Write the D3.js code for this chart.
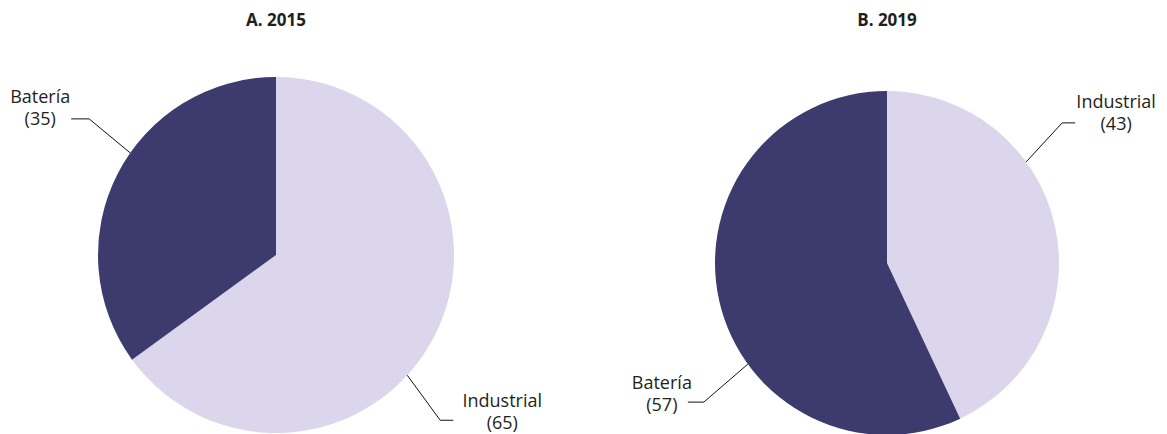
<!DOCTYPE html>
<html>
<head>
<meta charset="utf-8">
<script src="https://cdn.jsdelivr.net/npm/d3@7"></script>
<style>
  body { margin: 0; background: #fff; }
  svg text { font-family: "Open Sans", "Noto Sans", sans-serif; fill: #231f20; }
</style>
</head>
<body>
<svg width="1167" height="434"></svg>
<script>
// datos de los dos pasteles
const titles = ["A. 2015", "B. 2019"];
const categories = ["Industrial", "Batería"];
const values2015 = [65, 35];
const values2019 = [43, 57];

const colors = d3.scaleOrdinal().domain(categories).range(["#dbd6eb", "#3d3a6e"]);

// posicion de cada pastel y de sus etiquetas (angulo en grados desde arriba)
const layout = [
  { cx: 276, cy: 255, r: 178, values: values2015,
    labels: [
      { angle: 132.5, elbow: [33, 45], run: 13, tx: 49, ty: [-13, 9] },
      { angle: 305, elbow: [-41, -34], run: -18, tx: -31, ty: [-16, 6] }
    ] },
  { cx: 887, cy: 263, r: 172, values: values2019,
    labels: [
      { angle: 54, elbow: [36, -39], run: 13, tx: 41, ty: [-15, 7] },
      { angle: 234, elbow: [-44, 38], run: -16, tx: -26, ty: [-13, 9] }
    ] }
];

const svg = d3.select("svg");
const pie = d3.pie().sort(null);

layout.forEach((p, i) => {
  const g = svg.append("g").attr("transform", `translate(${p.cx},${p.cy})`);
  const arc = d3.arc().innerRadius(0).outerRadius(p.r);

  g.selectAll("path")
    .data(pie(p.values))
    .join("path")
    .attr("d", arc)
    .attr("fill", (d, j) => colors(categories[j]));

  svg.append("text")
    .attr("x", p.cx)
    .attr("y", 26)
    .attr("text-anchor", "middle")
    .attr("font-size", 17)
    .attr("font-weight", "bold")
    .text(titles[i]);

  // lineas guia y etiquetas
  p.labels.forEach((l, j) => {
    const a = l.angle * Math.PI / 180;
    const x0 = p.r * Math.sin(a), y0 = -p.r * Math.cos(a);
    const x1 = x0 + l.elbow[0], y1 = y0 + l.elbow[1];
    const x2 = x1 + l.run;
    g.append("path")
      .attr("d", d3.line()([[x0, y0], [x1, y1], [x2, y1]]))
      .attr("fill", "none")
      .attr("stroke", "#111")
      .attr("stroke-width", 1);
    const t = g.append("text")
      .attr("text-anchor", "middle")
      .attr("font-size", 18);
    t.append("tspan").attr("x", x2 + l.tx).attr("y", y1 + l.ty[0]).text(categories[j]);
    t.append("tspan").attr("x", x2 + l.tx).attr("y", y1 + l.ty[1]).text(`(${p.values[j]})`);
  });
});
</script>
</body>
</html>
